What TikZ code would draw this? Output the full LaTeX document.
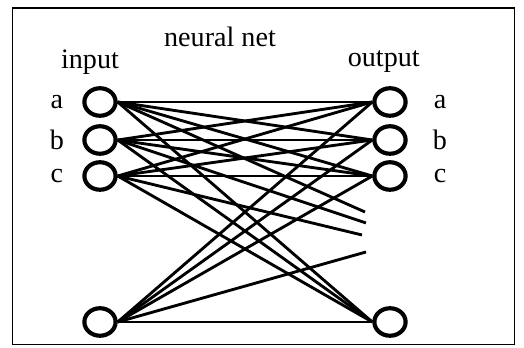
\documentclass[tikz,border=0pt]{standalone}
\usepackage{fontspec}
\setmainfont{Liberation Serif}
\usetikzlibrary{shapes.geometric}

\begin{document}
\begin{tikzpicture}[
  unit/.style={draw,ellipse,line width=1.9pt,minimum width=0.5cm,
               minimum height=0.44cm,inner sep=0pt},
  lbl/.style={font=\fontsize{12.8}{15}\selectfont,inner sep=0pt},
  wire/.style={line width=1.3pt}]
  \useasboundingbox (0,0) rectangle (8.384,5.568);
  % Frame
  \draw[line width=0.6pt] (0.2,0.06) rectangle (8.23,5.44);
  % Titles
  \node[lbl] (title) at (3.52,4.98) {neural net};
  \node[lbl] (intitle) at (1.44,4.58) {input};
  \node[lbl] (outtitle) at (6.14,4.58) {output};
  % Units a, b, c
  \foreach \n/\y in {a/3.936,b/3.328,c/2.752}{
    \node[unit] (in\n) at (1.6,\y) {};
    \node[unit] (out\n) at (6.24,\y) {};
    \node[lbl] (inlbl\n) at (0.91,\y) {\n};
    \node[lbl] (outlbl\n) at (7.04,\y) {\n};
  }
  % Last units
  \node[unit] (ind) at (1.6,0.416) {};
  \node[unit] (outd) at (6.24,0.416) {};
  % Loose ends
  \coordinate (enda) at (5.84,2.176);
  \coordinate (endb) at (5.856,2.0);
  \coordinate (endc) at (5.792,1.808);
  \coordinate (endd) at (5.856,1.536);
  % Connections
  \foreach \i in {a,b,c,d}
    \foreach \o in {a,b,c,d}
      \draw[wire] (in\i.east) -- (out\o.west);
  \foreach \i in {a,b,c,d}
    \draw[wire] (in\i.east) -- (end\i);
\end{tikzpicture}
\end{document}
